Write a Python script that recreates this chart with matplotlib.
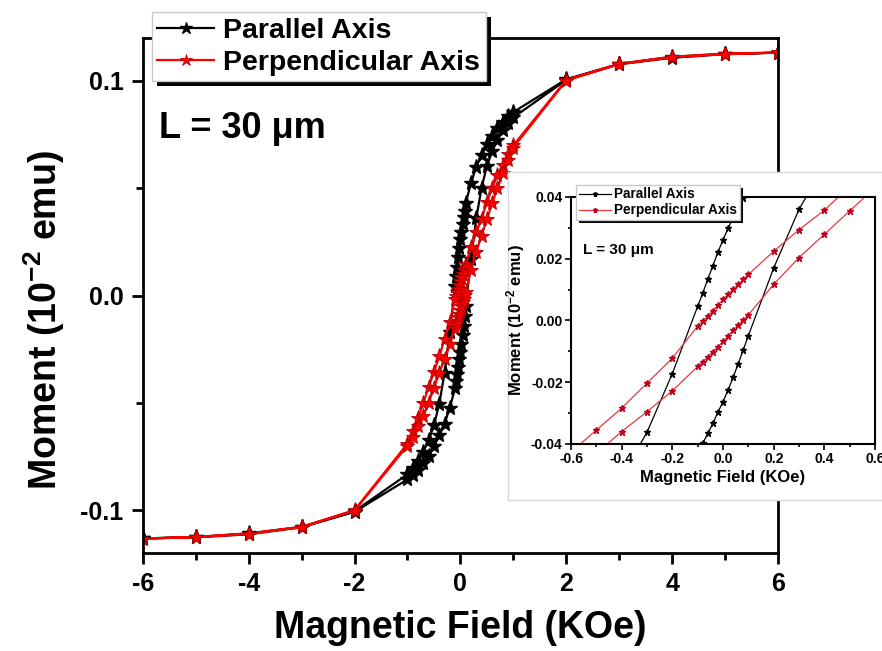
import matplotlib
matplotlib.use('Agg')
import matplotlib.pyplot as plt
from matplotlib.patches import Rectangle
from matplotlib.transforms import IdentityTransform
from matplotlib.ticker import MultipleLocator, FormatStrFormatter

plt.rcParams['font.family'] = ['Liberation Sans', 'DejaVu Sans']
plt.rcParams['font.weight'] = 'bold'
plt.rcParams['axes.labelweight'] = 'bold'
plt.rcParams['mathtext.fontset'] = 'custom'
plt.rcParams['mathtext.rm'] = 'Liberation Sans:bold'
plt.rcParams['mathtext.bf'] = 'Liberation Sans:bold'
plt.rcParams['mathtext.default'] = 'bf'
plt.rcParams['axes.unicode_minus'] = False

# field sweep (KOe): down from +6 then back up from -6
field_down = [6, 5, 4, 3, 2, 1, 0.9, 0.8, 0.7, 0.6, 0.5, 0.4, 0.3, 0.2,
              0.1, 0.08, 0.06, 0.04, 0.02, 0, -0.02, -0.04, -0.06, -0.08, -0.1,
              -0.2, -0.3, -0.4, -0.5, -0.6, -0.7, -0.8, -0.9, -1, -2, -3, -4, -5, -6]
field_up = [-6, -5, -4, -3, -2, -1, -0.9, -0.8, -0.7, -0.6, -0.5, -0.4, -0.3, -0.2,
            -0.1, -0.08, -0.06, -0.04, -0.02, 0, 0.02, 0.04, 0.06, 0.08, 0.1,
            0.2, 0.3, 0.4, 0.5, 0.6, 0.7, 0.8, 0.9, 1, 2, 3, 4, 5, 6]

# moment (1e-2 emu)
par_down = [0.1132, 0.1127, 0.1113, 0.1080, 0.1008, 0.0855, 0.0835, 0.0810, 0.0780,
            0.0745, 0.0705, 0.0655, 0.0600, 0.0525, 0.0430, 0.0396, 0.0366, 0.0333,
            0.0298, 0.0262, 0.0221, 0.0178, 0.0134, 0.0089, 0.0046, -0.0172, -0.0362,
            -0.0505, -0.0605, -0.0675, -0.0728, -0.0772, -0.0805, -0.0833, -0.1005,
            -0.1078, -0.1108, -0.1125, -0.1132]
par_up = [-0.1132, -0.1127, -0.1113, -0.1080, -0.1008, -0.0857, -0.0836, -0.0812, -0.0781,
          -0.0746, -0.0703, -0.0652, -0.0598, -0.0522, -0.0432, -0.0398, -0.0366, -0.0333,
          -0.0297, -0.0263, -0.0225, -0.0184, -0.0140, -0.0095, -0.0049, 0.0170, 0.0360,
          0.0503, 0.0603, 0.0672, 0.0726, 0.0770, 0.0803, 0.0830, 0.1005,
          0.1078, 0.1108, 0.1125, 0.1132]
perp_down = [0.1132, 0.1127, 0.1113, 0.1080, 0.1005, 0.0700, 0.0660, 0.0610, 0.0560,
             0.0500, 0.0435, 0.0357, 0.0294, 0.0224, 0.0149, 0.0133, 0.0117, 0.0101,
             0.0085, 0.0068, 0.0050, 0.0032, 0.0015, -0.0002, -0.0018, -0.0122, -0.0203,
             -0.0284, -0.0355, -0.0426, -0.0500, -0.0570, -0.0630, -0.0690, -0.1000,
             -0.1078, -0.1110, -0.1125, -0.1133]
perp_up = [-0.1133, -0.1126, -0.1110, -0.1079, -0.1002, -0.0700, -0.0660, -0.0610, -0.0560,
           -0.0500, -0.0430, -0.0360, -0.0295, -0.0228, -0.0149, -0.0133, -0.0117, -0.0101,
           -0.0085, -0.0068, -0.0050, -0.0032, -0.0015, 0.0002, 0.0018, 0.0117, 0.0204,
           0.0279, 0.0355, 0.0430, 0.0500, 0.0570, 0.0630, 0.0690, 0.1002,
           0.1079, 0.1110, 0.1126, 0.1133]

labels = ['Parallel Axis', 'Perpendicular Axis']
sample_text = 'L = 30 \u03bcm'


def drop_shadow(axis, legend, dx, dy):
    # solid black block offset behind the legend frame (pixel units)
    fig.canvas.draw()
    bb = legend.get_frame().get_window_extent()
    r = Rectangle((bb.x0 + dx, bb.y0 - dy), bb.width, bb.height, facecolor='black',
                  edgecolor='none', transform=IdentityTransform(), zorder=4.9,
                  clip_on=False)
    axis.add_artist(r)


fig = plt.figure(figsize=(8.82, 6.51), dpi=100)

# ---- main loop plot ----
ax = fig.add_axes([0.162, 0.1505, 0.72, 0.791])
ax.plot(field_down + field_up, par_down + par_up, '-', color='black', lw=1.6,
        marker='*', ms=11, mec='black', mfc='black', label=labels[0])
ax.plot(field_down + field_up, perp_down + perp_up, '-', color='red', lw=1.6,
        marker='*', ms=11, mec='#b00000', mew=0.6, mfc='red', label=labels[1])

ax.set_xlim(-6, 6)
ax.set_ylim(-0.12, 0.12)
ax.xaxis.set_major_locator(MultipleLocator(2))
ax.xaxis.set_minor_locator(MultipleLocator(1))
ax.yaxis.set_major_locator(MultipleLocator(0.1))
ax.yaxis.set_minor_locator(MultipleLocator(0.05))
ax.yaxis.set_major_formatter(FormatStrFormatter('%.1f'))
ax.tick_params(which='major', direction='out', length=8, width=2, labelsize=18, pad=6)
ax.tick_params(which='minor', direction='out', length=5, width=2)
for s in ax.spines.values():
    s.set_linewidth(2)
ax.set_xlabel('Magnetic Field (KOe)', fontsize=27, labelpad=10)
ax.set_ylabel('Moment (10$^{-2}$ emu)', fontsize=27)
ax.yaxis.set_label_coords(-0.12, 0.452)

leg = ax.legend(loc='upper left', bbox_to_anchor=(0.014, 1.05), borderaxespad=0,
                fontsize=20.5, frameon=True, fancybox=False, edgecolor='#c8c8c8',
                handlelength=2.0, markerscale=0.8,
                handletextpad=0.3, labelspacing=0.2, borderpad=0.2, framealpha=1)
leg.get_frame().set_linewidth(1)
ax.text(0.025, 0.825, sample_text, transform=ax.transAxes, fontsize=26,
        fontweight='bold', va='center', ha='left')

# ---- inset panel (white backing) ----
panel = fig.add_axes([508 / 882, 151 / 651, 374 / 882, 328 / 651])
panel.set_xticks([])
panel.set_yticks([])
panel.set_facecolor('white')
for s in panel.spines.values():
    s.set_color('#d8d8d8')
    s.set_linewidth(1)

# ---- inset zoom of the low-field region ----
ins = fig.add_axes([0.6474, 0.318, 0.3447, 0.3794])
ins.plot(field_down + field_up, par_down + par_up, '-', color='black', lw=0.9,
         marker='*', ms=4.5, mfc='black', mec='black', label=labels[0])
ins.plot(field_down + field_up, perp_down + perp_up, '-', color='#e8383d', lw=0.9,
         marker='*', ms=4.5, mfc='#c0001a', mec='#c0001a', label=labels[1])
ins.set_xlim(-0.6, 0.6)
ins.set_ylim(-0.04, 0.04)
ins.xaxis.set_major_locator(MultipleLocator(0.2))
ins.xaxis.set_minor_locator(MultipleLocator(0.1))
ins.yaxis.set_major_locator(MultipleLocator(0.02))
ins.yaxis.set_minor_locator(MultipleLocator(0.01))
ins.xaxis.set_major_formatter(FormatStrFormatter('%.1f'))
ins.yaxis.set_major_formatter(FormatStrFormatter('%.2f'))
ins.tick_params(which='major', direction='out', length=4, width=1.2, labelsize=10, pad=2)
ins.tick_params(which='minor', direction='out', length=2.5, width=1.2)
for s in ins.spines.values():
    s.set_linewidth(1.5)
ins.set_xlabel('Magnetic Field (KOe)', fontsize=12, labelpad=3)
ins.set_ylabel('Moment (10$^{-2}$ emu)', fontsize=12, labelpad=3)
ileg = ins.legend(loc='upper left', bbox_to_anchor=(0.016, 1.05), borderaxespad=0,
                  fontsize=9.8, frameon=True, fancybox=False, edgecolor='#c8c8c8',
                  handlelength=2.4, markerscale=0.8,
                  handletextpad=0.2, labelspacing=0.15, borderpad=0.2, framealpha=1)
ins.text(0.04, 0.785, sample_text, transform=ins.transAxes, fontsize=11,
         fontweight='bold', va='center', ha='left')

drop_shadow(ax, leg, 5, 5)
drop_shadow(ins, ileg, 3, 3)

fig.savefig('out.png', dpi=100)
